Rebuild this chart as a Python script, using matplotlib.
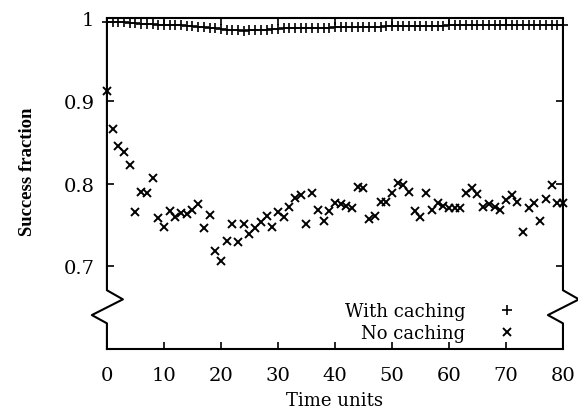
import numpy as np
import matplotlib
matplotlib.use('Agg')
import matplotlib.pyplot as plt
import matplotlib.transforms as mtransforms

plt.rcParams['font.family'] = ['DejaVu Serif']

# time axis: one sample per unit
time_units = np.arange(0, 81)

with_caching = [0.995, 0.995, 0.995, 0.995, 0.994, 0.994, 0.993, 0.993, 0.993, 0.992,
                0.992, 0.992, 0.991, 0.991, 0.990, 0.990, 0.989, 0.989, 0.988, 0.988,
                0.987, 0.986, 0.985, 0.985, 0.984, 0.985, 0.985, 0.986, 0.986, 0.987,
                0.987, 0.988, 0.988, 0.988, 0.988, 0.988, 0.988, 0.988, 0.988, 0.988,
                0.989, 0.989, 0.989, 0.989, 0.989, 0.989, 0.989, 0.989, 0.989, 0.990,
                0.990, 0.990, 0.990, 0.990, 0.990, 0.990, 0.990, 0.990, 0.990, 0.990,
                0.991, 0.991, 0.991, 0.991, 0.991, 0.991, 0.991, 0.991, 0.991, 0.991,
                0.991, 0.991, 0.991, 0.991, 0.991, 0.991, 0.991, 0.991, 0.991, 0.991,
                0.991]

no_caching = [0.912, 0.866, 0.845, 0.838, 0.822, 0.765, 0.790, 0.789, 0.807, 0.758,
              0.747, 0.767, 0.759, 0.764, 0.763, 0.768, 0.775, 0.746, 0.762, 0.719,
              0.706, 0.731, 0.751, 0.729, 0.751, 0.739, 0.746, 0.754, 0.761, 0.747,
              0.765, 0.760, 0.772, 0.783, 0.786, 0.751, 0.788, 0.768, 0.755, 0.767,
              0.776, 0.775, 0.773, 0.771, 0.796, 0.795, 0.757, 0.761, 0.778, 0.778,
              0.788, 0.801, 0.798, 0.790, 0.767, 0.759, 0.789, 0.768, 0.776, 0.773,
              0.770, 0.770, 0.771, 0.788, 0.794, 0.787, 0.772, 0.775, 0.772, 0.768,
              0.780, 0.786, 0.778, 0.741, 0.771, 0.776, 0.755, 0.781, 0.798, 0.776,
              0.776]

x_ticks = [0, 10, 20, 30, 40, 50, 60, 70, 80]
y_ticks = [0.7, 0.8, 0.9, 1.0]
y_ticklabels = ['0.7', '0.8', '0.9', '1']

fig = plt.figure(figsize=(5.78, 4.14), dpi=100)
ax = fig.add_axes([0.185, 0.1546, 0.789, 0.7994])

ax.plot(time_units, with_caching, linestyle='none', marker='+', markersize=7,
        markeredgewidth=1.2, color='black', label='With caching', clip_on=False)
ax.plot(time_units, no_caching, linestyle='none', marker='x', markersize=5.5,
        markeredgewidth=1.4, color='black', label='No caching', clip_on=False)

ax.set_xlim(0, 80)
ax.set_ylim(0.6, 1.0)
ax.set_xticks(x_ticks)
ax.set_yticks(y_ticks)
ax.set_yticklabels(y_ticklabels)
ax.tick_params(direction='in', length=5, width=1.2, labelsize=14,
               top=True, right=True, color='black')
ax.tick_params(axis='x', pad=12)
ax.tick_params(axis='y', pad=9)

for side in ['top', 'bottom']:
    ax.spines[side].set_linewidth(1.5)

# broken y axis: replace the side spines with zigzag lines
ax.spines['left'].set_visible(False)
ax.spines['right'].set_visible(False)
trans = mtransforms.blended_transform_factory(ax.transAxes, ax.transData)
zig_y = [1.0, 0.671, 0.660, 0.641, 0.631, 0.6]
ax.plot([0, 0, 0.035, -0.033, 0, 0], zig_y, color='black', lw=1.5,
        transform=trans, clip_on=False)
ax.plot([1, 1, 1.035, 0.967, 1, 1], zig_y, color='black', lw=1.5,
        transform=trans, clip_on=False)

ax.set_xlabel('Time units', fontsize=13, labelpad=5)
ax.set_ylabel('Success fraction', fontsize=13.5, family='Liberation Serif',
              weight='bold')
ax.yaxis.set_label_coords(-0.156, 0.538)

ax.legend(loc='lower right', bbox_to_anchor=(0.917, 0.02), frameon=False,
          markerfirst=False, fontsize=13, handlelength=2.0, handletextpad=1.3,
          borderpad=0, borderaxespad=0, labelspacing=0.22)

fig.savefig('out.png', dpi=100)
